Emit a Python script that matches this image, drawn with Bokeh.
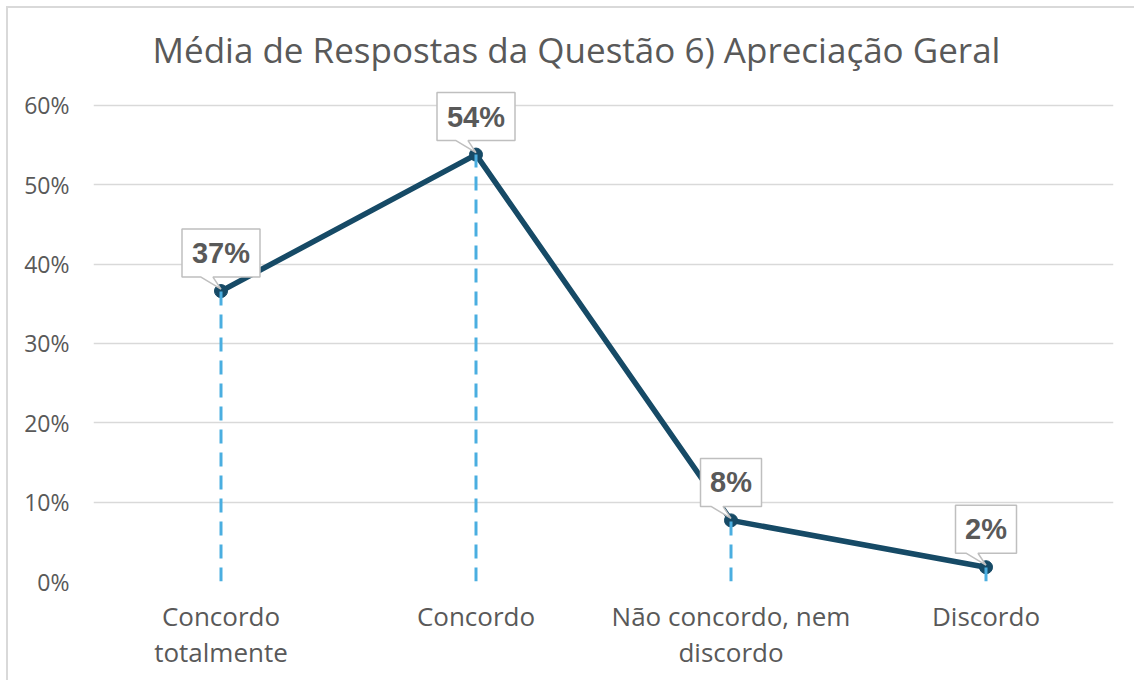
from bokeh.plotting import figure
from bokeh.models import Range1d, FixedTicker, NumeralTickFormatter
from bokeh.core.properties import value
from bokeh.embed import file_html
from bokeh.resources import INLINE

categories = ["Concordo\ntotalmente", "Concordo", "Não concordo, nem\ndiscordo", "Discordo"]
values = [0.366, 0.538, 0.077, 0.018]
labels = ["37%", "54%", "8%", "2%"]
y_ticks = [0.0, 0.1, 0.2, 0.3, 0.4, 0.5, 0.6]

FONT = "Open Sans"
TXT = "#595959"

W, H = 1134, 680
p = figure(width=W, height=H, output_backend="svg", toolbar_location=None,
           x_range=Range1d(-0.5, 3.5), y_range=Range1d(0, 0.62),
           min_border_left=93, min_border_right=21, min_border_top=89, min_border_bottom=99)
p.outline_line_color = None
p.background_fill_color = "white"
p.border_fill_color = None
# chart-area border (left and top edges visible in the crop), painted behind the canvas
p.styles = {"background": ("linear-gradient(#d9d9d9, #d9d9d9) 6px 6px / 2px 100% no-repeat, "
                           "linear-gradient(#d9d9d9, #d9d9d9) 6px 6px / 100% 2px no-repeat, "
                           "white")}

# title
p.title.text = "Média de Respostas da Questão 6) Apreciação Geral"
p.title.align = "left"
p.title.offset = 59
p.title.text_font = FONT
p.title.text_font_size = "35px"
p.title.text_font_style = "normal"
p.title.text_color = TXT
p.title.standoff = 33

# axes
p.xaxis.ticker = FixedTicker(ticks=list(range(len(categories))))
p.xaxis.major_label_overrides = {i: c for i, c in enumerate(categories)}
p.yaxis.ticker = FixedTicker(ticks=y_ticks)
p.yaxis.formatter = NumeralTickFormatter(format="0%")
for ax in (p.xaxis, p.yaxis):
    ax.axis_line_color = None
    ax.major_tick_line_color = None
    ax.minor_tick_line_color = None
    ax.major_label_text_font = FONT
    ax.major_label_text_color = TXT
p.xaxis.major_label_text_font_size = "26px"
p.xaxis.major_label_text_line_height = 1.0
p.xaxis.major_label_standoff = 10
p.yaxis.major_label_text_font_size = "23px"
p.yaxis.major_label_standoff = 18
p.xgrid.grid_line_color = None
p.ygrid.grid_line_color = "#d9d9d9"
p.ygrid.grid_line_width = 1.5

xs = list(range(len(categories)))

# main line and markers
p.line(xs, values, line_color="#164a66", line_width=5.5)
p.scatter(xs, values, size=13, fill_color="#164a66", line_color="#164a66")

# dashed drop lines
p.segment(x0=xs, y0=[0] * len(xs), x1=xs, y1=values, line_color="#4aaee0",
          line_width=3, line_dash="14 9")

# callouts (pixel -> data conversion)
PX_X = 1020 / 4.0
PX_Y = 492 / 0.62
box_xs, box_ys, tx, ty = [], [], [], []
for i, (v, lab) in enumerate(zip(values, labels)):
    bw = 78 if len(lab) == 3 else 61
    bh = 48
    gap = 14
    pts = [(-bw / 2, gap), (-20, gap), (0, 2), (-8, gap), (bw / 2, gap),
           (bw / 2, gap + bh), (-bw / 2, gap + bh)]
    box_xs.append([i + dx / PX_X for dx, dy in pts])
    box_ys.append([v + dy / PX_Y for dx, dy in pts])
    tx.append(i)
    ty.append(v + (gap + bh / 2) / PX_Y)
p.patches(box_xs, box_ys, fill_color="white", line_color="#bfbfbf", line_width=1.5)
p.text(tx, ty, text=labels, text_align="center", text_baseline="middle",
       text_font=value("Liberation Sans"), text_font_style="bold",
       text_font_size="29px", text_color=TXT)

open("out.html", "w").write(file_html(p, INLINE))
